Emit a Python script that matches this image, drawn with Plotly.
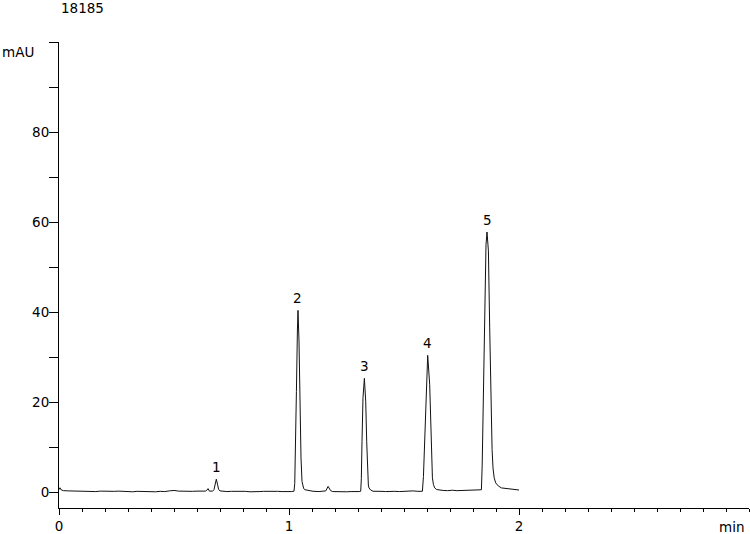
import plotly.graph_objects as go

# ---- data (time in min, signal in mAU) ----
base_a_t = [0.000, 0.004, 0.010, 0.020, 0.040, 0.060, 0.080, 0.100, 0.120, 0.140, 0.160, 0.180,
            0.200, 0.220, 0.240, 0.260, 0.280, 0.300, 0.320, 0.340, 0.360, 0.380, 0.400, 0.420,
            0.440, 0.460, 0.480, 0.500, 0.520, 0.540, 0.560, 0.580, 0.600, 0.620, 0.636]
base_a_y = [0.6, 1.0, 0.5, 0.35, 0.3, 0.25, 0.3, 0.2, 0.25, 0.2, 0.15, 0.25,
            0.2, 0.15, 0.2, 0.25, 0.15, 0.2, 0.1, 0.2, 0.15, 0.25, 0.15, 0.1,
            0.2, 0.15, 0.3, 0.4, 0.25, 0.2, 0.3, 0.2, 0.25, 0.2, 0.25]

peak1_t = [0.642, 0.648, 0.654, 0.662, 0.668, 0.674, 0.679, 0.684, 0.689, 0.694, 0.700]
peak1_y = [0.4, 0.8, 0.25, 0.2, 0.25, 0.6, 1.9, 2.9, 1.8, 0.6, 0.3]

base_b_t = [0.71, 0.73, 0.75, 0.77, 0.79, 0.81, 0.83, 0.85, 0.87, 0.89, 0.91, 0.93, 0.95,
            0.97, 0.99, 1.01, 1.018]
base_b_y = [0.2, 0.15, 0.2, 0.25, 0.15, 0.2, 0.1, 0.2, 0.15, 0.2, 0.25, 0.15, 0.2,
            0.15, 0.1, 0.15, 0.2]

peak2_t = [1.0217, 1.0250, 1.0278, 1.0322, 1.0365, 1.0391, 1.0435, 1.0478, 1.0522, 1.0565,
           1.0600, 1.0639, 1.0700, 1.0826, 1.1043]
peak2_y = [0.22, 2.0, 7.6, 22.4, 35.8, 40.4, 33.6, 18.7, 7.6, 2.4, 1.3, 0.8, 0.55, 0.38, 0.22]

base_c_t = [1.13, 1.15, 1.160, 1.170, 1.181, 1.19, 1.21, 1.23, 1.25, 1.27, 1.29, 1.305]
base_c_y = [0.15, 0.2, 0.3, 1.3, 0.35, 0.15, 0.1, 0.15, 0.1, 0.15, 0.1, 0.15]

peak3_t = [1.3117, 1.3145, 1.3174, 1.3217, 1.3278, 1.3335, 1.3378, 1.3422, 1.3450, 1.3478,
           1.3550, 1.3652]
peak3_y = [0.22, 3.0, 11.3, 21.0, 25.3, 20.2, 11.3, 3.2, 1.6, 0.96, 0.5, 0.22]

base_d_t = [1.38, 1.40, 1.42, 1.44, 1.46, 1.48, 1.50, 1.52, 1.54, 1.56, 1.575]
base_d_y = [0.15, 0.2, 0.15, 0.25, 0.2, 0.15, 0.25, 0.2, 0.3, 0.2, 0.25]

peak4_t = [1.580, 1.5845, 1.5887, 1.5957, 1.6030, 1.6117, 1.6174, 1.6235, 1.6280, 1.6335,
           1.6420, 1.6552]
peak4_y = [0.22, 3.5, 10.6, 21.7, 30.4, 23.9, 10.6, 3.2, 1.7, 0.96, 0.6, 0.45]

base_e_t = [1.67, 1.69, 1.71, 1.73, 1.75, 1.77, 1.79, 1.81, 1.83]
base_e_y = [0.4, 0.35, 0.45, 0.35, 0.4, 0.45, 0.35, 0.45, 0.5]

peak5_t = [1.8365, 1.8400, 1.8435, 1.8509, 1.8565, 1.8609, 1.8670, 1.8726, 1.8783, 1.8830,
           1.8870, 1.8920, 1.8987, 1.9100, 1.9235, 1.96, 2.000]
peak5_y = [0.55, 6.0, 18.0, 40.2, 55.0, 57.8, 53.6, 36.5, 18.0, 9.5, 5.4, 3.2, 2.07, 1.4, 0.96, 0.67, 0.5]

peak_labels = ["1", "2", "3", "4", "5"]
peak_times = [0.684, 1.0391, 1.3278, 1.6030, 1.8609]
peak_heights = [2.9, 40.4, 25.3, 30.4, 57.8]

x_major = [0, 1, 2]
y_major = [0, 20, 40, 60, 80]
y_minor = [10, 30, 50, 70, 90, 100]

sample_id = "18185"
y_unit = "mAU"
x_unit = "min"

# ---- assemble trace ----
time_min = base_a_t + peak1_t + base_b_t + peak2_t + base_c_t + peak3_t + base_d_t + peak4_t + base_e_t + peak5_t
signal = base_a_y + peak1_y + base_b_y + peak2_y + base_c_y + peak3_y + base_d_y + peak4_y + base_e_y + peak5_y

FONT = "DejaVu Sans"
FS = 13.5

fig = go.Figure()
fig.add_trace(go.Scatter(x=time_min, y=signal, mode="lines",
                         line=dict(color="#111111", width=1), hoverinfo="skip"))

annotations = []
for lab, t, h in zip(peak_labels, peak_times, peak_heights):
    annotations.append(dict(x=t, y=h, xref="x", yref="y", text=lab, showarrow=False,
                            yanchor="bottom", yshift=2, font=dict(family=FONT, size=FS, color="#000")))

L, R, T, B = 59, 1, 42, 26
W, H = 750, 534
pw, ph = W - L - R, H - T - B

def px_x(px):
    return (px - L) / pw

def px_y(py):
    return (H - B - py) / ph

annotations += [
    dict(x=px_x(59), y=px_y(8), xref="paper", yref="paper", text=sample_id, showarrow=False,
         xanchor="left", yanchor="middle", font=dict(family=FONT, size=FS, color="#000")),
    dict(x=px_x(0), y=px_y(52), xref="paper", yref="paper", text=y_unit, showarrow=False,
         xanchor="left", yanchor="middle", font=dict(family=FONT, size=FS, color="#000")),
    dict(x=px_x(746), y=px_y(527), xref="paper", yref="paper", text=x_unit, showarrow=False,
         xanchor="right", yanchor="middle", font=dict(family=FONT, size=FS, color="#000")),
]

fig.update_layout(
    width=W, height=H,
    margin=dict(l=L, r=R, t=T, b=B, pad=0, autoexpand=False),
    paper_bgcolor="white", plot_bgcolor="white",
    showlegend=False,
    font=dict(family=FONT, size=FS, color="#000"),
    annotations=annotations,
)
fig.update_xaxes(range=[0, 3.0], tickmode="array", tickvals=x_major,
                 ticktext=[str(v) for v in x_major], automargin=False,
                 showgrid=False, zeroline=False, showline=True, linecolor="#000", linewidth=1,
                 ticks="outside", ticklen=6, tickcolor="#000", tickwidth=1,
                 minor=dict(tickmode="array", tickvals=[i / 10 for i in range(31)],
                            ticks="outside", ticklen=3, tickcolor="#000", tickwidth=1, showgrid=False),
                 tickfont=dict(family=FONT, size=FS, color="#000"))
fig.update_yaxes(range=[-3.5, 100], tickmode="array", tickvals=y_major,
                 ticktext=[str(v) for v in y_major], automargin=False,
                 showgrid=False, zeroline=False, showline=True, linecolor="#000", linewidth=1,
                 ticks="outside", ticklen=9, tickcolor="#000", tickwidth=1, ticklabelstandoff=-3,
                 minor=dict(tickmode="array", tickvals=y_minor,
                            ticks="outside", ticklen=9, tickcolor="#000", tickwidth=1, showgrid=False),
                 tickfont=dict(family=FONT, size=FS, color="#000"))

fig.write_html("out.html", config={"displayModeBar": False, "staticPlot": True},
               post_script="document.body.style.margin='0px';document.body.style.overflow='hidden';")
